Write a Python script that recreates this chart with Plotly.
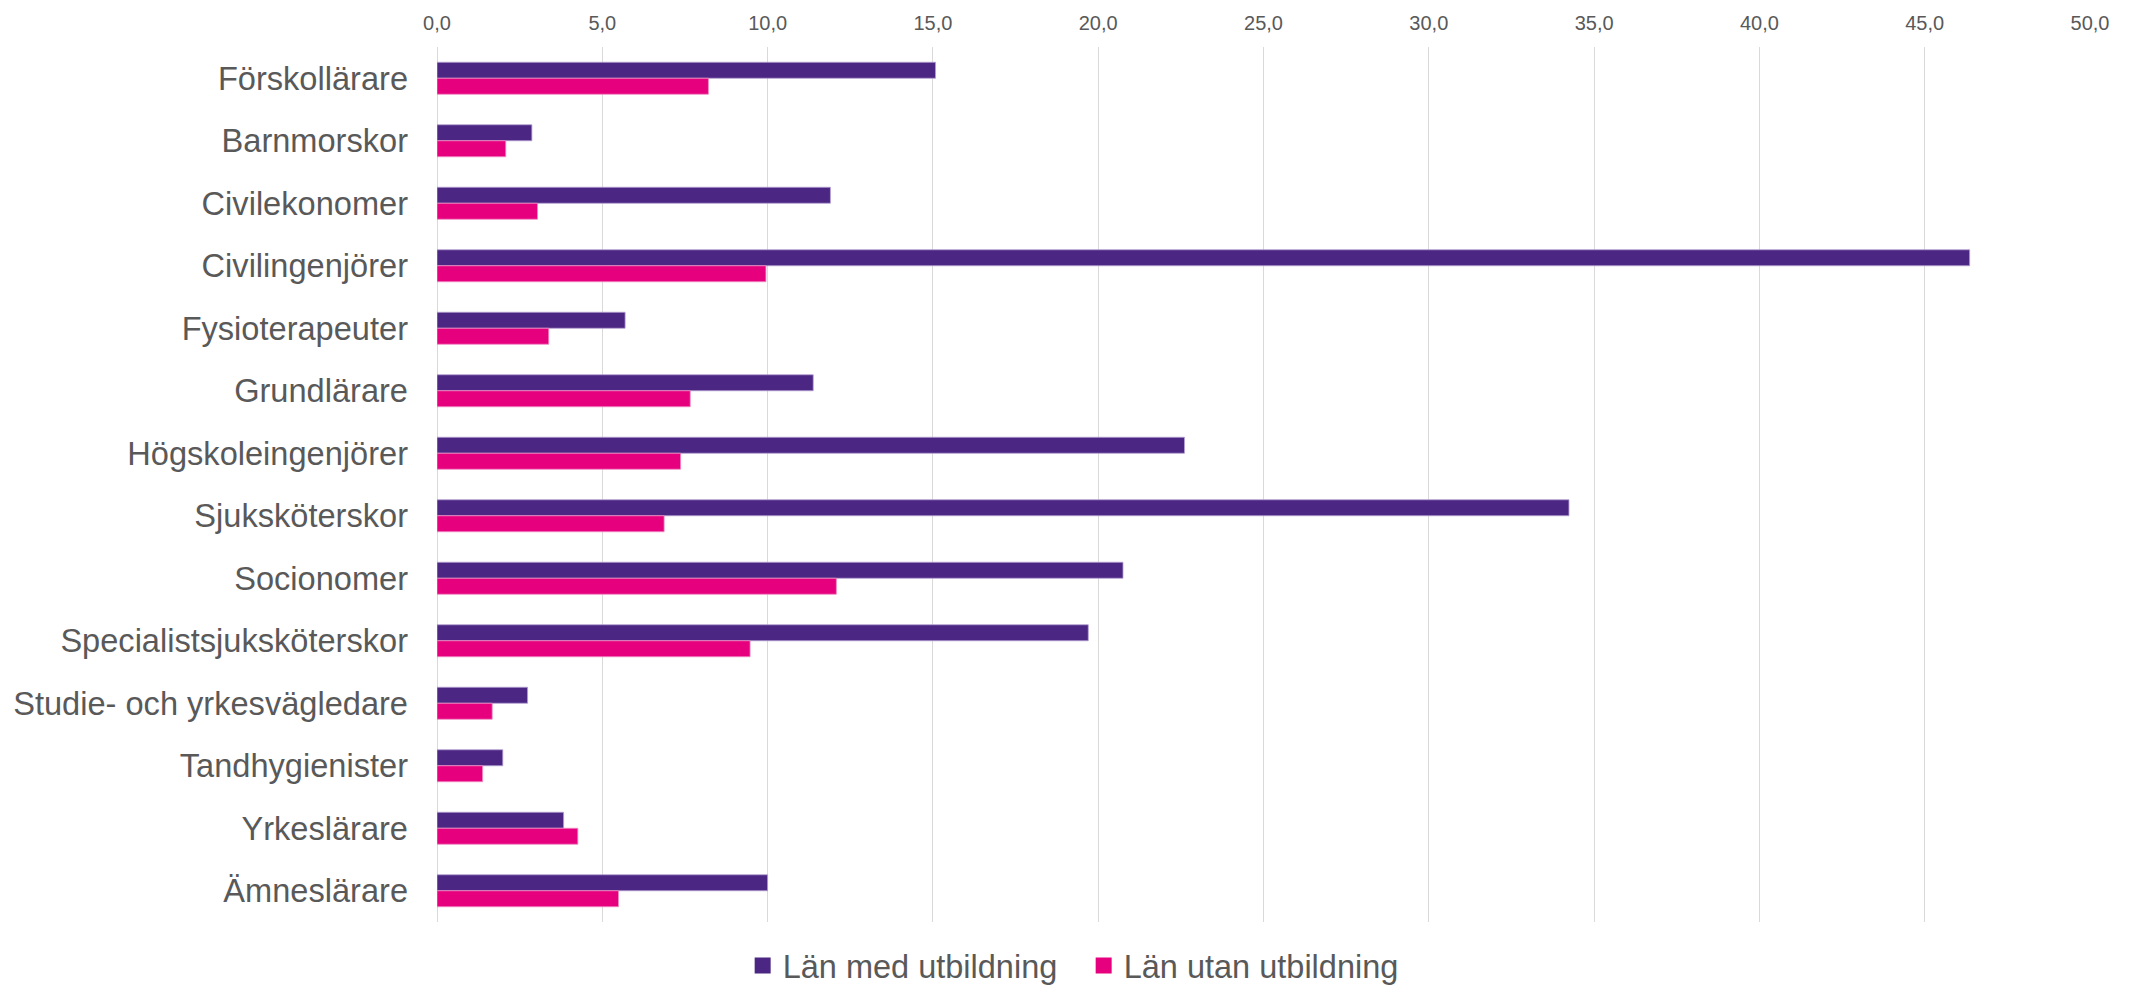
import plotly.graph_objects as go

categories = [
    "Förskollärare", "Barnmorskor", "Civilekonomer", "Civilingenjörer",
    "Fysioterapeuter", "Grundlärare", "Högskoleingenjörer", "Sjuksköterskor",
    "Socionomer", "Specialistsjuksköterskor", "Studie- och yrkesvägledare",
    "Tandhygienister", "Yrkeslärare", "Ämneslärare",
]
med_utbildning = [15.08, 2.87, 11.9, 46.36, 5.69, 11.38, 22.61, 34.24,
                  20.75, 19.70, 2.74, 1.99, 3.83, 10.0]
utan_utbildning = [8.21, 2.08, 3.04, 9.95, 3.38, 7.66, 7.37, 6.87,
                   12.08, 9.47, 1.67, 1.38, 4.26, 5.49]
series_names = ["Län med utbildning", "Län utan utbildning"]
tick_values = [0, 5, 10, 15, 20, 25, 30, 35, 40, 45, 50]

PURPLE = "#4B2682"
PINK = "#E6007E"
TEXT = "#595959"
GRID = "#D9D9D9"

fig = go.Figure()
fig.add_trace(go.Bar(
    y=categories, x=med_utbildning, name=series_names[0], orientation="h",
    marker=dict(color=PURPLE, line=dict(color="rgba(180,160,210,0.8)", width=1)),
    showlegend=False,
))
fig.add_trace(go.Bar(
    y=categories, x=utan_utbildning, name=series_names[1], orientation="h",
    marker=dict(color=PINK, line=dict(color="rgba(240,140,195,0.8)", width=1)),
    showlegend=False,
))
# legend entries with larger square symbols
for name, col in zip(series_names, [PURPLE, PINK]):
    fig.add_trace(go.Scatter(
        x=[None], y=[None], mode="markers", name=name,
        marker=dict(symbol="square", size=17, color=col),
        showlegend=True,
    ))

fig.update_layout(
    width=2129, height=989,
    paper_bgcolor="white", plot_bgcolor="white",
    margin=dict(l=437, r=39, t=47, b=67, autoexpand=False),
    barmode="group", bargap=0.488, bargroupgap=0,
    separators=", ",
    font=dict(family="Liberation Sans, Arial, sans-serif", color=TEXT, size=20),
    legend=dict(
        orientation="h", xref="container", yref="paper",
        x=0.509, xanchor="center", y=-0.05, yanchor="middle",
        font=dict(size=32.5, color=TEXT), traceorder="normal",
        itemsizing="trace", entrywidth=296, entrywidthmode="pixels",
    ),
    showlegend=True,
)
fig.update_xaxes(
    side="top", range=[0, 50], tickvals=tick_values, tickformat=".1f",
    showgrid=True, gridcolor=GRID, gridwidth=1,
    zeroline=True, zerolinecolor=GRID, zerolinewidth=1,
    showline=False, ticks="", tickfont=dict(size=20, color=TEXT),
    ticklabelstandoff=12,
)
fig.update_yaxes(
    autorange="reversed", showgrid=False, zeroline=False, showline=False,
    ticks="", tickfont=dict(size=32.6, color=TEXT), ticklabelstandoff=28,
)

fig.write_html("out.html", config={"displayModeBar": False},
               post_script="document.body.style.margin='0';")
